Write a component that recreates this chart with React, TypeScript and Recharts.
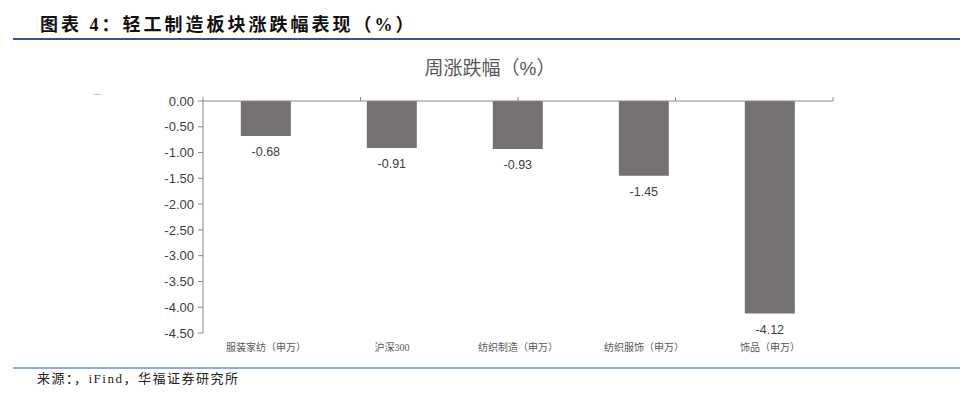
import React from 'react';
import { BarChart, Bar, XAxis, YAxis, LabelList } from 'recharts';

const categories = ['服装家纺（申万）', '沪深300', '纺织制造（申万）', '纺织服饰（申万）', '饰品（申万）'];
const weeklyChange = [-0.68, -0.91, -0.93, -1.45, -4.12];
const yTicks = [0, -0.5, -1, -1.5, -2, -2.5, -3, -3.5, -4, -4.5];

const data = categories.map((name, i) => ({ name, value: weeklyChange[i] }));

const serif = '"Liberation Serif", "Noto Sans CJK SC", serif';
const sans = '"Liberation Sans", "Noto Sans CJK SC", sans-serif';
const axisColor = '#898989';

const BarLabel = (props: any) => {
  const { x, y, width, height, value } = props;
  const bottom = Math.max(y, y + height);
  return (
    <text
      x={x + width / 2}
      y={bottom + 17}
      textAnchor="middle"
      dominantBaseline="middle"
      fontFamily={sans}
      fontSize={12.5}
      fill="#404040"
    >
      {Number(value).toFixed(2)}
    </text>
  );
};

export default function App() {
  return (
    <div style={{ position: 'absolute', left: 0, top: 0, width: 960, height: 406, background: '#fff' }}>
      <div
        style={{
          position: 'absolute',
          left: 40,
          top: 14,
          fontFamily: serif,
          fontWeight: 'bold',
          fontSize: 18,
          letterSpacing: 3,
          lineHeight: '22px',
          color: '#111',
          whiteSpace: 'nowrap',
        }}
      >
        图表 4：轻工制造板块涨跌幅表现（%）
      </div>
      <div style={{ position: 'absolute', left: 13, top: 38, width: 947, height: 2, background: '#2f5496' }} />

      <div
        style={{
          position: 'absolute',
          left: 390,
          width: 200,
          top: 57,
          textAlign: 'center',
          fontFamily: sans,
          fontSize: 19,
          lineHeight: '24px',
          color: '#595959',
        }}
      >
        周涨跌幅（%）
      </div>
      <div style={{ position: 'absolute', left: 94, top: 94, width: 8, height: 1, background: '#c8c8c8' }} />

      <div style={{ position: 'absolute', left: 0, top: 0 }}>
        <BarChart
          width={960}
          height={406}
          data={data}
          margin={{ top: 100, right: 127, bottom: 43, left: 143 }}
          barCategoryGap="30%"
        >
          <XAxis
            xAxisId="cat"
            dataKey="name"
            type="category"
            axisLine={false}
            tickLine={false}
            height={30}
            tickMargin={5}
            tick={{ fontFamily: serif, fontSize: 10, fill: '#595959' }}
            interval={0}
          />
          <XAxis
            xAxisId="edge"
            type="number"
            orientation="top"
            domain={[0, 5]}
            ticks={[0, 1, 2, 3, 4, 5]}
            allowDataOverflow
            height={1}
            tickSize={4}
            tickFormatter={() => ''}
            stroke={axisColor}
          />
          <YAxis
            domain={[-4.5, 0]}
            ticks={yTicks}
            interval={0}
            width={60}
            tickSize={5}
            tickMargin={4}
            tickFormatter={(v: number) => v.toFixed(2)}
            tick={{ fontFamily: sans, fontSize: 13, fill: '#404040' }}
            stroke={axisColor}
          />
          <Bar xAxisId="cat" dataKey="value" fill="#767171" isAnimationActive={false}>
            <LabelList dataKey="value" content={BarLabel} />
          </Bar>
        </BarChart>
      </div>

      <div style={{ position: 'absolute', left: 13, top: 367, width: 947, height: 2, background: '#8eaadb' }} />
      <div
        style={{
          position: 'absolute',
          left: 37,
          top: 371,
          fontFamily: serif,
          fontSize: 13,
          letterSpacing: 1.5,
          lineHeight: '16px',
          color: '#222',
          whiteSpace: 'nowrap',
        }}
      >
        来源：，iFind，华福证券研究所
      </div>
    </div>
  );
}
